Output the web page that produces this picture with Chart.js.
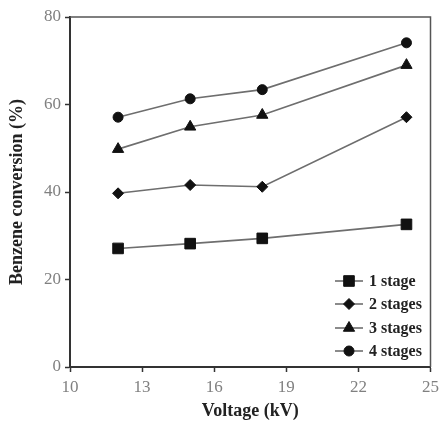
<!DOCTYPE html>
<html>
<head>
<meta charset="utf-8">
<script src="https://cdn.jsdelivr.net/npm/chart.js@4/dist/chart.umd.min.js"></script>
<style>
  html, body { margin: 0; padding: 0; background: #fff; }
  #wrap { width: 439px; height: 423px; }
</style>
</head>
<body>
<div id="wrap"><canvas id="chart" width="439" height="423"></canvas></div>
<script>
const voltages = [12, 15, 18, 24];
const stage1 = [27.1, 28.2, 29.4, 32.6];
const stage2 = [39.7, 41.6, 41.2, 57.1];
const stage3 = [49.8, 54.9, 57.6, 69.0];
const stage4 = [57.1, 61.3, 63.4, 74.1];
const seriesLabels = ["1 stage", "2 stages", "3 stages", "4 stages"];
const xTicks = [10, 13, 16, 19, 22, 25];
const yTicks = [0, 20, 40, 60, 80];

const LINE = "#6e6e6e";
const INK = "#111";
const SERIF = "'Liberation Serif', 'Times New Roman', serif";

function makeSet(label, values, style, radius) {
  return {
    label,
    data: voltages.map((v, i) => ({ x: v, y: values[i] })),
    borderColor: LINE,
    borderWidth: 1.6,
    pointStyle: style,
    pointRadius: radius,
    pointBackgroundColor: INK,
    pointBorderColor: INK,
    pointBorderWidth: 1,
    tension: 0
  };
}

// legend sits inside the plot, lower right, line + marker like the original
const insideLegend = {
  id: "insideLegend",
  afterDraw(chart) {
    const ctx = chart.ctx;
    const area = chart.chartArea;
    const rows = [281, 304, 328, 351];
    ctx.save();
    chart.data.datasets.forEach((ds, i) => {
      const y = rows[i];
      const x0 = 335, x1 = 363;
      ctx.strokeStyle = ds.borderColor;
      ctx.lineWidth = 1.6;
      ctx.beginPath();
      ctx.moveTo(x0, y);
      ctx.lineTo(x1, y);
      ctx.stroke();
      ctx.fillStyle = INK;
      ctx.strokeStyle = INK;
      ctx.lineWidth = 1;
      Chart.helpers.drawPoint(ctx, {
        pointStyle: ds.pointStyle,
        radius: ds.pointRadius,
        rotation: 0,
        borderWidth: 1
      }, (x0 + x1) / 2, y);
      ctx.fillStyle = "#222";
      ctx.font = "bold 16px " + SERIF;
      ctx.textAlign = "left";
      ctx.textBaseline = "middle";
      ctx.fillText(ds.label, 369, y + 1);
    });
    // top and right frame
    ctx.strokeStyle = "#555";
    ctx.lineWidth = 1.5;
    ctx.beginPath();
    ctx.moveTo(area.left, area.top);
    ctx.lineTo(area.right, area.top);
    ctx.lineTo(area.right, area.bottom);
    ctx.stroke();
    ctx.restore();
  }
};

new Chart(document.getElementById("chart"), {
  type: "line",
  data: {
    datasets: [
      makeSet(seriesLabels[0], stage1, "rect", 7.5),
      makeSet(seriesLabels[1], stage2, "rectRot", 5.5),
      makeSet(seriesLabels[2], stage3, "triangle", 6.5),
      makeSet(seriesLabels[3], stage4, "circle", 5)
    ]
  },
  options: {
    responsive: false,
    animation: false,
    layout: { padding: { left: 0, right: 7, top: 17, bottom: 0 } },
    plugins: {
      legend: { display: false },
      tooltip: { enabled: false }
    },
    scales: {
      x: {
        type: "linear",
        min: 10,
        max: 25,
        afterBuildTicks: s => { s.ticks = xTicks.map(v => ({ value: v })); },
        afterFit: s => { s.height = 56; s.paddingLeft = 0; s.paddingRight = 0; },
        border: { display: true, color: "#333", width: 2 },
        grid: { drawOnChartArea: false, drawTicks: true, tickLength: 5, color: "#333", tickWidth: 1.5 },
        ticks: {
          color: "#808080",
          padding: 5,
          font: { family: SERIF, size: 17 }
        },
        title: {
          display: true,
          text: "Voltage (kV)",
          color: "#222",
          padding: { top: 0, bottom: 1 },
          font: { family: SERIF, size: 18, weight: "bold" }
        }
      },
      y: {
        min: 0,
        max: 80,
        afterBuildTicks: s => { s.ticks = yTicks.map(v => ({ value: v })); },
        afterFit: s => { s.width = 70; },
        border: { display: true, color: "#333", width: 2 },
        grid: { drawOnChartArea: false, drawTicks: true, tickLength: 5, color: "#333", tickWidth: 1.5 },
        ticks: {
          color: "#808080",
          padding: 4,
          font: { family: SERIF, size: 17 }
        },
        title: {
          display: true,
          text: "Benzene conversion (%)",
          color: "#222",
          padding: { top: 7, bottom: 0 },
          font: { family: SERIF, size: 18, weight: "bold" }
        }
      }
    }
  },
  plugins: [insideLegend]
});
</script>
</body>
</html>
